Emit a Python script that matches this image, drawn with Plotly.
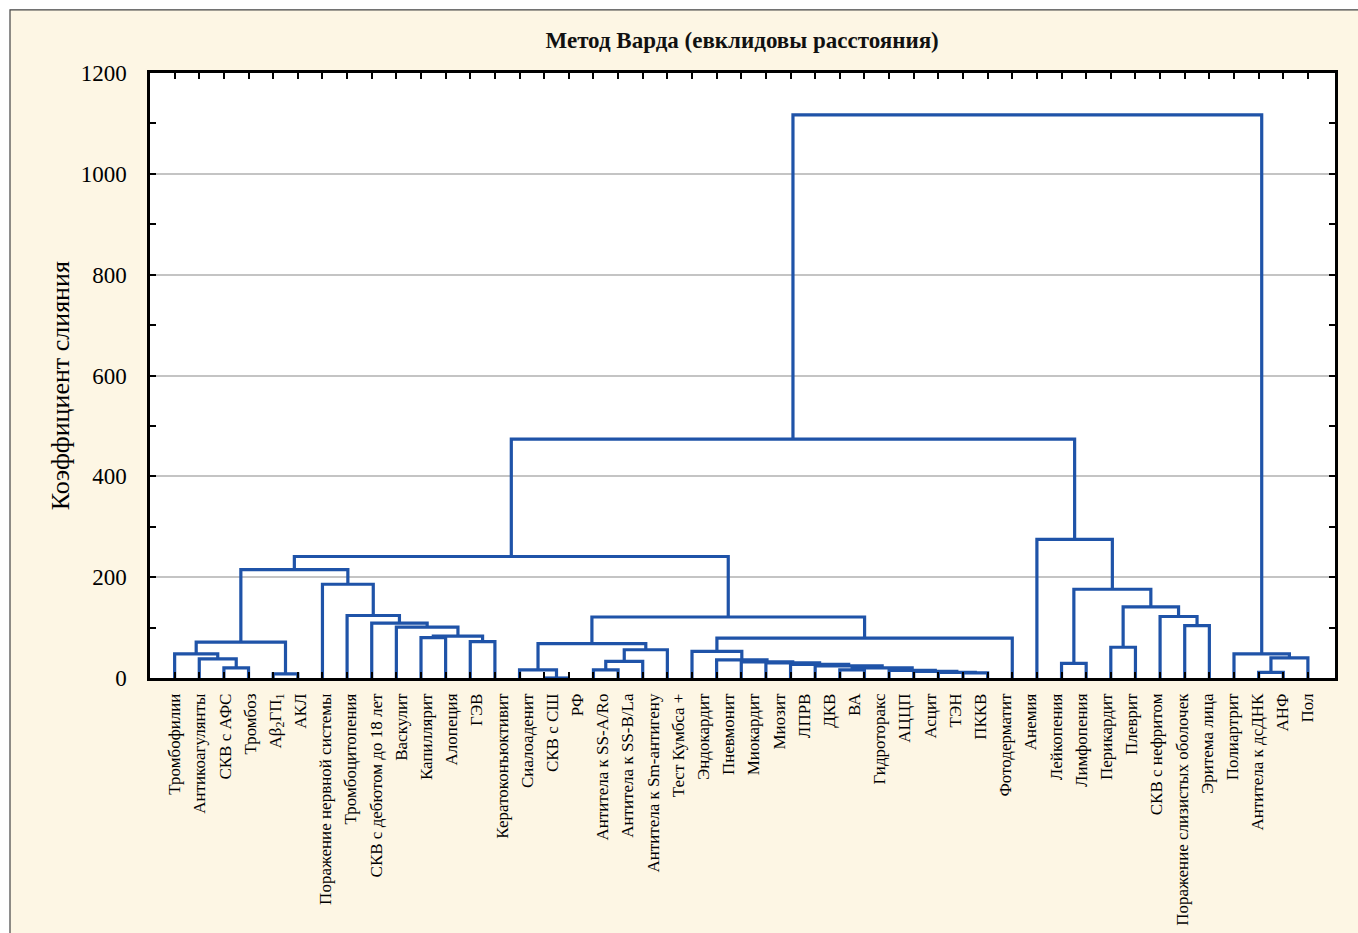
import plotly.graph_objects as go

# ---------------- data ----------------
leaf_labels = [
    "Тромбофилии", "Антикоагулянты", "СКВ с АФС", "Тромбоз", "Aβ<sub>2</sub>ГП<sub>1</sub>", "АКЛ",
    "Поражение нервной системы", "Тромбоцитопения", "СКВ с дебютом до 18 лет", "Васкулит",
    "Капиллярит", "Алопеция", "ГЭВ", "Кератоконъюктивит", "Сиалоаденит", "СКВ с СШ", "РФ",
    "Антитела к SS-A/Ro", "Антитела к SS-B/La", "Антитела к Sm-антигену", "Тест Кумбса +",
    "Эндокардит", "Пневмонит", "Миокардит", "Миозит", "ЛПРВ", "ДКВ", "ВА", "Гидроторакс",
    "АЦЦП", "Асцит", "ТЭН", "ПККВ", "Фотодерматит", "Анемия", "Лейкопения", "Лимфопения",
    "Перикардит", "Плеврит", "СКВ с нефритом", "Поражение слизистых оболочек", "Эритема лица",
    "Полиартрит", "Антитела к дсДНК", "АНФ", "Пол",
]
n_leaves = 47  # leaf slots on the tree axis (one slot is unlabeled in the source)

# merges: name, left child, right child, linkage distance
merge_names = ["m1", "m2", "m3", "m4", "m5", "m6", "m7", "m8", "m9", "m10", "m11", "m12", "m13",
               "m14", "m15", "m16", "m17", "m18", "m19",
               "c1", "c2", "c3", "c4", "c5", "c6", "c7", "c8", "c9", "c10", "c11", "c12",
               "mB", "mM", "mLM",
               "r1", "r2", "r3", "r4", "r5", "r6", "r7", "mLMR", "r8", "r9", "r10", "root"]
merge_left = [3, 2, 1, 5, "m3", 13, 11, "m7", 10, 9, 8, 7, "m5",
              16, 15, 18, "m16", "m17", "m15",
              33, 32, 31, 30, 28, "c5", 27, 26, 25, 24, 23, 22,
              "c12", "m19", "m13",
              37, 39, 42, 41, "r2", "r1", 36, "mLM", 45, "r8", 44, "mLMR"]
merge_right = [4, "m1", "m2", 6, "m4", 14, 12, "m6", "m8", "m9", "m10", "m11", "m12",
               17, "m14", 19, 20, 21, "m18",
               34, "c1", "c2", "c3", 29, "c4", "c6", "c7", "c8", "c9", "c10", "c11",
               35, "mB", "mM",
               38, 40, 43, "r3", "r4", "r5", "r6", "r7", 46, 47, "r9", "r10"]
merge_height = [20, 38, 48, 8, 71, 72, 80, 83, 101, 109, 124, 186, 215,
                0, 16, 16, 33, 56, 68,
                10, 11, 13, 15, 16, 20, 24, 27, 30, 32, 36, 53,
                79, 121, 241,
                29, 61, 104, 122, 141, 176, 275, 474, 11, 40, 48, 1117]

y_tick_vals = [0, 200, 400, 600, 800, 1000, 1200]

# ---------------- build tree segments ----------------
pos = {i: float(i) for i in range(1, n_leaves + 1)}
hgt = {i: 0.0 for i in range(1, n_leaves + 1)}
xs, ys = [], []
for name, a, b, h in zip(merge_names, merge_left, merge_right, merge_height):
    xs += [pos[a], pos[a], pos[b], pos[b], None]
    ys += [hgt[a], h, h, hgt[b], None]
    pos[name] = (pos[a] + pos[b]) / 2
    hgt[name] = h

label_pos = [1 + j * (n_leaves - 1) / (len(leaf_labels) - 1) for j in range(len(leaf_labels))]

BLUE = "#1f53a8"
CREAM = "#fdf6e4"
FONT = "Liberation Serif"

fig = go.Figure()
fig.add_trace(go.Scatter(x=xs, y=ys, mode="lines", xaxis="x2",
                         line=dict(color=BLUE, width=3.2), hoverinfo="skip", showlegend=False))
# invisible trace to activate the label axis
fig.add_trace(go.Scatter(x=[label_pos[0]], y=[0], mode="markers", marker=dict(opacity=0),
                         hoverinfo="skip", showlegend=False))

X_RANGE = [0, 48.1]
fig.update_layout(
    width=1358, height=933,
    margin=dict(l=150, r=23, t=73, b=255),
    paper_bgcolor=CREAM, plot_bgcolor="white",
    font=dict(family=FONT, color="black"),
    title=dict(text="<b>Метод Варда (евклидовы расстояния)</b>", x=0.5465, xanchor="center",
               y=1 - 40 / 933, yanchor="middle", font=dict(size=23, family=FONT, color="#111")),
    xaxis=dict(range=X_RANGE, tickvals=label_pos, ticktext=leaf_labels, tickangle=-90,
               ticks="", showgrid=False, zeroline=False, showline=True, linecolor="black",
               linewidth=2.5, mirror=True, tickfont=dict(size=17, family=FONT),
               ticklabelstandoff=6, automargin=False),
    xaxis2=dict(range=X_RANGE, overlaying="x", side="bottom", tickvals=list(range(1, n_leaves + 1)),
                showticklabels=False, ticks="inside", ticklen=6, tickwidth=2, tickcolor="black",
                mirror="ticks", showgrid=False, zeroline=False, showline=False, automargin=False),
    yaxis=dict(range=[0, 1200], tickvals=y_tick_vals, ticks="inside", ticklen=6, tickwidth=2,
               tickcolor="black", showline=True, linecolor="black", linewidth=2.5, mirror="ticks",
               showgrid=True, gridcolor="#c4c4c4", gridwidth=2, zeroline=False,
               tickfont=dict(size=23, family=FONT), ticklabelstandoff=16, automargin=False,
               minor=dict(dtick=100, ticks="inside", ticklen=6, tickwidth=2, tickcolor="black",
                          showgrid=False)),
    annotations=[dict(text="Коэффициент слияния", xref="paper", yref="paper",
                      x=(60 - 150) / 1185, y=(677.5 - 386) / 604.5, textangle=-90,
                      showarrow=False, font=dict(size=26, family=FONT, color="black"),
                      xanchor="center", yanchor="middle")],
    shapes=[
        dict(type="rect", xref="paper", yref="paper", x0=-150 / 1185, x1=(10 - 150) / 1185,
             y0=-0.5, y1=1.2, fillcolor="white", line=dict(width=0)),
        dict(type="rect", xref="paper", yref="paper", x0=-0.2, x1=1.2,
             y0=(677.5 - 10) / 604.5, y1=1.2, fillcolor="white", line=dict(width=0)),
        dict(type="rect", xref="paper", yref="paper", x0=(10 - 150) / 1185, x1=(1375 - 150) / 1185,
             y0=(677.5 - 950) / 604.5, y1=(677.5 - 10) / 604.5, fillcolor="rgba(0,0,0,0)",
             line=dict(color="#444", width=1.2)),
    ],
)

fig.write_html("out.html", config={"displayModeBar": False},
               post_script="document.body.style.margin='0';")
